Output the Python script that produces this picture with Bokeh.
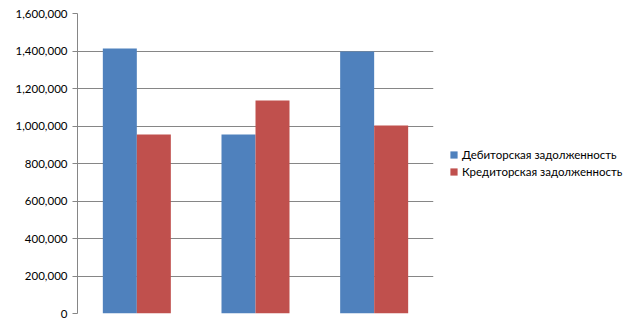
from bokeh.plotting import figure
from bokeh.models import (ColumnDataSource, FactorRange, Range1d, FixedTicker,
                          NumeralTickFormatter, Legend, LegendItem)
from bokeh.transform import dodge
from bokeh.embed import file_html
from bokeh.resources import INLINE

categories = ["1", "2", "3"]
debit = [1413000, 955000, 1397000]
credit = [955000, 1136000, 1003000]
series_names = ["Дебиторская задолженность", "Кредиторская задолженность"]
y_ticks = [0, 200000, 400000, 600000, 800000, 1000000, 1200000, 1400000, 1600000]

source = ColumnDataSource(dict(cat=categories, debit=debit, credit=credit))

FONT = "Lato"
GRID = "#868686"

p = figure(frame_width=356, frame_height=300, output_backend="svg", toolbar_location=None,
           x_range=FactorRange(*categories, range_padding=0),
           y_range=Range1d(0, 1600000),
           min_border_left=77, min_border_right=0, min_border_top=13,
           min_border_bottom=14)
p.outline_line_color = None
p.background_fill_color = "white"
p.border_fill_color = "white"

b1 = p.vbar(x=dodge("cat", -0.1433, range=p.x_range), top="debit", width=0.2865,
            source=source, fill_color="#4F81BD", line_color=None)
b2 = p.vbar(x=dodge("cat", 0.1433, range=p.x_range), top="credit", width=0.2865,
            source=source, fill_color="#C0504D", line_color=None)

p.xgrid.grid_line_color = None
p.ygrid.grid_line_color = GRID
p.ygrid.grid_line_width = 1
p.yaxis.ticker = FixedTicker(ticks=y_ticks)
p.yaxis.formatter = NumeralTickFormatter(format="0,0")
p.yaxis.major_label_text_font = FONT
p.yaxis.major_label_text_font_size = "11.5px"
p.yaxis.major_label_text_color = "#000000"
p.yaxis.axis_line_color = GRID
p.yaxis.major_tick_line_color = GRID
p.yaxis.major_tick_out = 5
p.yaxis.major_tick_in = 0
p.yaxis.minor_tick_line_color = None
p.yaxis.major_label_standoff = 5

p.xaxis.visible = False

legend = Legend(items=[LegendItem(label=series_names[0], renderers=[b1]),
                       LegendItem(label=series_names[1], renderers=[b2])],
                location="center_left", orientation="vertical")
legend.label_text_font = FONT
legend.label_text_font_size = "11.5px"
legend.label_text_color = "#000000"
legend.glyph_width = 9
legend.glyph_height = 9
legend.label_standoff = 4
legend.spacing = 4
legend.padding = 0
legend.margin = 16
legend.border_line_color = None
legend.background_fill_alpha = 0
legend.label_height = 13
p.add_layout(legend, "right")

open("out.html", "w").write(file_html(p, INLINE))
